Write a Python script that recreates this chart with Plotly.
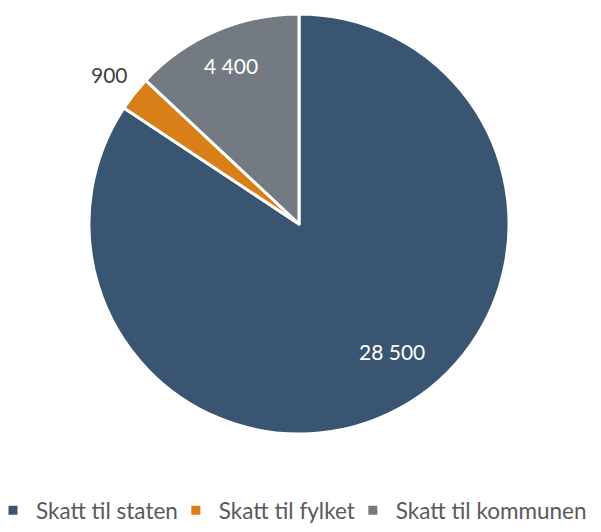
import math
import plotly.graph_objects as go

labels = ["Skatt til staten", "Skatt til fylket", "Skatt til kommunen"]
values = [28500, 900, 4400]
colors = ["#3a5572", "#d97f17", "#737a82"]
text_colors = ["#ffffff", "#404040", "#ffffff"]
label_radius = [0.75, 1.15, 0.82]   # fraction of pie radius for value labels
label_angle_shift = [-8, 0, 0]      # degrees, label placement tweak

W, H = 601, 532
dom_x = [0.148, 0.847]
dom_y = [0.184, 0.974]

fig = go.Figure(go.Pie(
    labels=labels,
    values=values,
    sort=False,
    direction="clockwise",
    rotation=0,
    marker=dict(colors=colors, line=dict(color="#ffffff", width=3)),
    textinfo="none",
    hoverinfo="label+value",
    domain=dict(x=dom_x, y=dom_y),
))

# value labels placed along each slice's bisector
cx = (dom_x[0] + dom_x[1]) / 2 * W
cy = (dom_y[0] + dom_y[1]) / 2 * H
R = min((dom_x[1] - dom_x[0]) * W, (dom_y[1] - dom_y[0]) * H) / 2
total = sum(values)
cum = 0
for v, col, f, da in zip(values, text_colors, label_radius, label_angle_shift):
    mid = (cum + v / 2) / total * 2 * math.pi + math.radians(da)
    cum += v
    px = cx + f * R * math.sin(mid)
    py = cy + f * R * math.cos(mid)
    fig.add_annotation(
        x=px / W, y=py / H, xref="paper", yref="paper",
        text=f"{v:,}".replace(",", " "), showarrow=False,
        font=dict(family="Lato", size=21, color=col),
        xanchor="center", yanchor="middle",
    )

fig.update_layout(
    width=W, height=H,
    margin=dict(l=0, r=0, t=0, b=0, autoexpand=False),
    paper_bgcolor="white",
    font=dict(family="Lato", size=22.5, color="#595959"),
    showlegend=True,
    legend=dict(orientation="h", x=0.0, xanchor="left", y=0.0, yanchor="bottom",
                font=dict(family="Lato", size=22.5, color="#595959"),
                itemwidth=36, indentation=-10, traceorder="normal"),
)

fig.write_html("out.html", config={"displayModeBar": False},
               post_script="document.body.style.margin='0px';")
